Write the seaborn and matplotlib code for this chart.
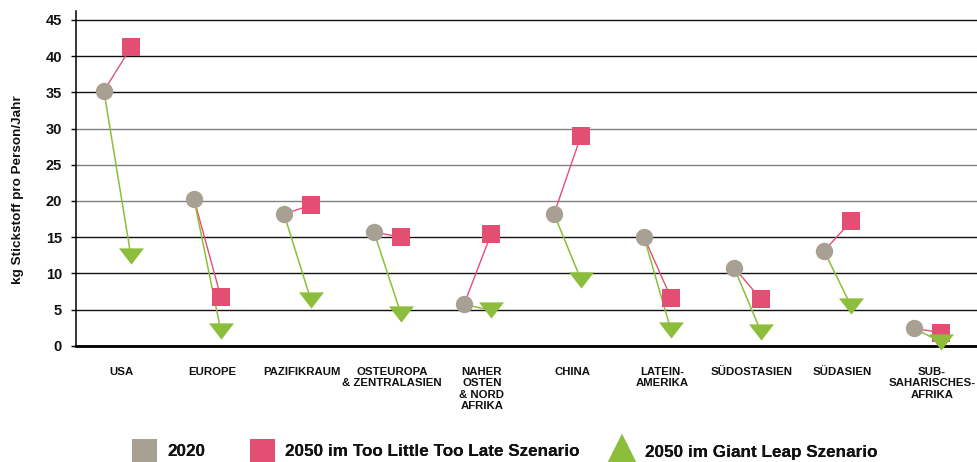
import numpy as np
import pandas as pd
import matplotlib
matplotlib.use("Agg")
import matplotlib.pyplot as plt
import seaborn as sns
from matplotlib.lines import Line2D
from matplotlib.markers import MarkerStyle

# ---------------- data ----------------
regions = ["USA", "EUROPE", "PAZIFIKRAUM", "OSTEUROPA\n& ZENTRALASIEN",
           "NAHER\nOSTEN\n& NORD\nAFRIKA", "CHINA", "LATEIN-\nAMERIKA",
           "SÜDOSTASIEN", "SÜDASIEN", "SUB-\nSAHARISCHES-\nAFRIKA"]
v2020 = [35.2, 20.3, 18.2, 15.7, 5.7, 18.2, 15.0, 10.8, 13.1, 2.4]
v_tltl = [41.2, 6.7, 19.4, 15.0, 15.4, 29.0, 6.6, 6.4, 17.2, 1.8]
v_gl = [12.4, 2.0, 6.3, 4.4, 4.9, 9.1, 2.1, 1.9, 5.5, 0.5]
yticks = [0, 5, 10, 15, 20, 25, 30, 35, 40, 45]
ylabel = "kg Stickstoff pro Person/Jahr"
legend_labels = ["2020", "2050 im Too Little Too Late Szenario",
                 "2050 im Giant Leap Szenario"]

GRAY = "#A8A193"
PINK = "#E34F73"
GREEN = "#8CBE3B"

sns.set_theme(style="white")
plt.rcParams["font.family"] = ["Liberation Sans", "DejaVu Sans"]
plt.rcParams["font.weight"] = "bold"

W, H = 978, 462
fig = plt.figure(figsize=(W / 100, H / 100), dpi=100)
ax_left, ax_right, ax_bottom_px, ax_top_px = 76, 978, 345.7, 11
ax = fig.add_axes([ax_left / W, (H - ax_bottom_px) / H,
                   (ax_right - ax_left) / W, (ax_bottom_px - ax_top_px) / H])

idx = np.arange(len(regions))
df = pd.DataFrame({"region": regions, "x": idx,
                   "x0": idx - 0.2, "x1": idx + 0.1,
                   "v2020": v2020, "tltl": v_tltl, "gl": v_gl})

# connecting segments
seg_t = pd.concat([pd.DataFrame({"x": df["x0"], "y": df["v2020"], "u": idx}),
                   pd.DataFrame({"x": df["x1"], "y": df["tltl"], "u": idx})])
seg_g = pd.concat([pd.DataFrame({"x": df["x0"], "y": df["v2020"], "u": idx}),
                   pd.DataFrame({"x": df["x1"], "y": df["gl"], "u": idx})])
sns.lineplot(data=seg_t, x="x", y="y", units="u", estimator=None, color=PINK,
             lw=1.0, ax=ax, zorder=2, clip_on=False)
sns.lineplot(data=seg_g, x="x", y="y", units="u", estimator=None, color=GREEN,
             lw=1.1, ax=ax, zorder=2, clip_on=False)

tri = MarkerStyle(np.array([[-1.0, 0.65], [1.0, 0.65], [0.0, -0.65], [-1.0, 0.65]]))
sns.scatterplot(data=df, x="x0", y="v2020", marker="o", s=12.5 ** 2, color=GRAY,
                linewidth=0, ax=ax, zorder=4, clip_on=False)
sns.scatterplot(data=df, x="x1", y="tltl", marker="s", s=13 ** 2, color=PINK,
                linewidth=0, ax=ax, zorder=5, clip_on=False)
sns.scatterplot(data=df, x="x1", y="gl", marker=tri, s=18 ** 2, color=GREEN,
                linewidth=0, ax=ax, zorder=6, clip_on=False)

ax.set_xlim(-0.51, 9.51)
ax.set_ylim(0, 46.24)

ax.set_yticks(yticks)
ax.set_yticklabels([str(t) for t in yticks], fontsize=10.5, fontweight="bold")
ax.tick_params(axis="y", left=True, length=3.6, width=1, color="black", pad=6.5,
               labelcolor="#111111")
ax.set_xticks(idx)
ax.set_xticklabels(regions, fontsize=8.2, fontweight="bold", linespacing=1.2)
ax.tick_params(axis="x", length=0, pad=15, labelcolor="#111111")

ax.grid(axis="y", lw=1.0)
ax.set_axisbelow(True)
for t, gl in zip(yticks, ax.get_ygridlines()):
    gl.set_color("#808080" if t in (20, 25, 30) else "#111111")
ax.grid(axis="x", visible=False)

for s in ("top", "right"):
    ax.spines[s].set_visible(False)
ax.spines["left"].set_color("black")
ax.spines["left"].set_linewidth(1.1)
ax.spines["bottom"].set_color("black")
ax.spines["bottom"].set_linewidth(2.0)
ax.spines["bottom"].set_zorder(3)

ax.set_xlabel("")
ax.set_ylabel(ylabel, fontsize=9.7, fontweight="bold", va="center", color="#111111")
ax.yaxis.set_label_coords((18 - ax_left) / (ax_right - ax_left),
                          (ax_bottom_px - 190) / (ax_bottom_px - ax_top_px))

# legend: three single-entry legends placed along the bottom
handles = [Line2D([], [], ls="", marker="s", markersize=18, color=GRAY, markeredgewidth=0),
           Line2D([], [], ls="", marker="s", markersize=18, color=PINK, markeredgewidth=0),
           Line2D([], [], ls="", marker="^", markersize=24, color=GREEN, markeredgewidth=0)]
lefts = [131, 249, 609]
for h, lab, lx in zip(handles, legend_labels, lefts):
    leg = fig.legend([h], [lab], loc="center left",
                     bbox_to_anchor=(lx / W, 10 / H), frameon=False,
                     handlelength=1.5, handletextpad=0.63,
                     borderpad=0, borderaxespad=0, prop={"weight": "bold", "size": 12.3})
    for txt in leg.get_texts():
        txt.set_color("#111111")
    fig.add_artist(leg)

fig.savefig("out.png", dpi=100)
